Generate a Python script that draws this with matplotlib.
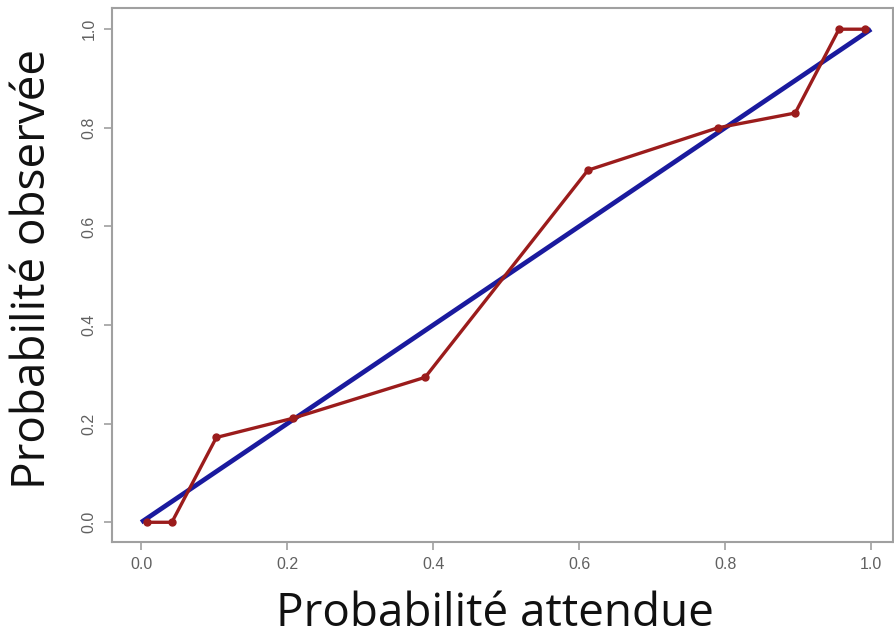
import matplotlib
matplotlib.use("Agg")
import matplotlib.pyplot as plt
import numpy as np

# Calibration points
expected = [0.008, 0.042, 0.103, 0.208, 0.389, 0.612, 0.790, 0.896, 0.956, 0.992]
observed = [0.0, 0.0, 0.172, 0.211, 0.294, 0.714, 0.800, 0.830, 1.0, 1.0]
diag = [0.0, 1.0]
ticks = [0.0, 0.2, 0.4, 0.6, 0.8, 1.0]
tick_labels = ["0.0", "0.2", "0.4", "0.6", "0.8", "1.0"]

grey = "#a0a0a0"
red = "#9b1c1c"
blue = "#1a1a9e"

fig = plt.figure(figsize=(8.94, 6.43), dpi=100)
ax = fig.add_axes([112 / 894, 101 / 643, 781 / 894, 534 / 643])

ax.plot(diag, diag, color=blue, lw=3.4, solid_capstyle="butt", zorder=2)
ax.plot(expected, observed, color=red, lw=2.4, marker="o", ms=5,
        markeredgecolor=red, zorder=3)

ax.set_xlim(-0.04, 1.03)
ax.set_ylim(-0.04, 1.043)
ax.set_xticks(ticks)
ax.set_xticklabels(tick_labels)
ax.set_yticks(ticks)
ax.set_yticklabels(tick_labels, rotation=90, va="center")
for lab in ax.get_xticklabels() + ax.get_yticklabels():
    lab.set_family("Liberation Sans")

for s in ax.spines.values():
    s.set_color(grey)
    s.set_linewidth(1.5)
ax.tick_params(colors=grey, labelcolor="#606060", labelsize=11.5, length=6,
               width=1.2, direction="out", pad=5)

fig.text(495 / 894, 1 - 614 / 643, "Probabilité attendue", ha="center",
         va="center", fontsize=33, family="Open Sans", color="#111111")
fig.text(33 / 894, 1 - 269 / 643, "Probabilité observée", ha="center",
         va="center", rotation=90, fontsize=33, family="Open Sans",
         color="#111111")

fig.savefig("out.png", dpi=100)
